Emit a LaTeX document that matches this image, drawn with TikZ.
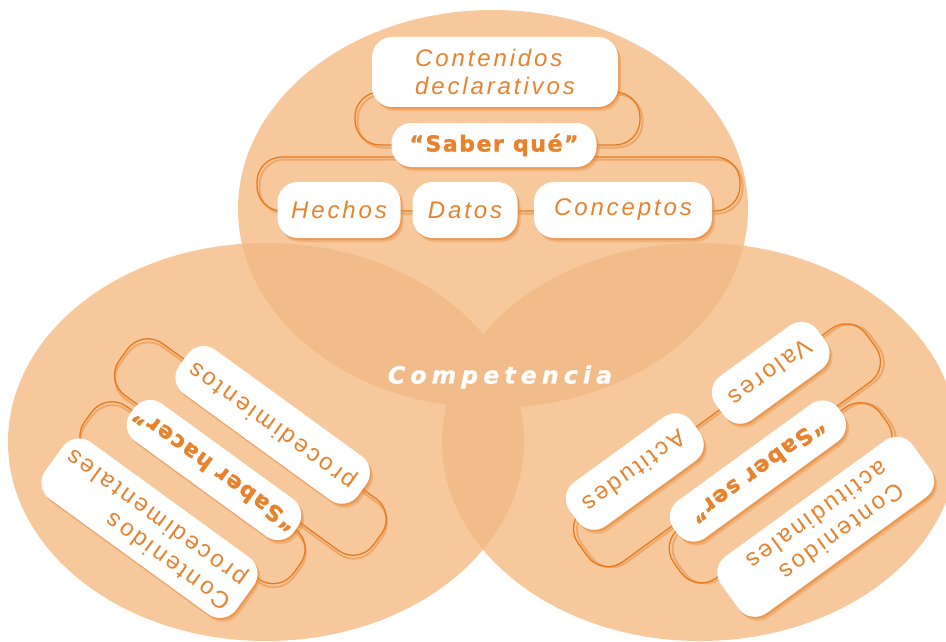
\documentclass[tikz,border=0pt]{standalone}
\usepackage{fontspec}
\setmainfont{Liberation Sans}
\newfontfamily\cardfont[LetterSpace=12]{Liberation Sans}
\newfontfamily\strongfont[LetterSpace=7, FakeBold=1.6]{DejaVu Sans Bold}
\newfontfamily\titlefont[LetterSpace=22, FakeBold=1.2]{DejaVu Sans Bold Oblique}
\usetikzlibrary{shadows}

\definecolor{peach}{RGB}{246,200,155}
\definecolor{peachdark}{RGB}{242,188,138}
\definecolor{inkorange}{RGB}{232,130,45}
\definecolor{cliporange}{RGB}{228,122,32}

\tikzset{
  blob/.style={fill=peach},
  overlap/.style={fill=peachdark},
  card/.style={fill=white, text=inkorange, inner sep=0pt, rounded corners=20pt,
    drop shadow={shadow xshift=3pt, shadow yshift=-4pt, fill=inkorange, opacity=.3},
    drop shadow={shadow xshift=1.5pt, shadow yshift=-2pt, fill=inkorange, opacity=.5},
    font=\cardfont\fontsize{24}{28}\selectfont},
  slanted/.style={font=\cardfont\itshape\fontsize{24}{28}\selectfont},
  strong/.style={font=\strongfont\fontsize{22}{26}\selectfont},
  clipline/.style={draw=cliporange, line width=1.3pt, rounded corners=25pt},
  clipshade/.style={draw=cliporange, line width=2pt, opacity=.4, rounded corners=25pt, shift={(2.5,2.5)}},
}

\begin{document}
\begin{tikzpicture}[x=1pt, y=-1pt]
    \useasboundingbox (0,0) rectangle (946,642);

    % Draw the three discs
    \fill[blob] (493,209) ellipse [x radius=255, y radius=199];
    \fill[blob] (266,442) ellipse [x radius=258, y radius=199];
    \fill[blob] (700,442) ellipse [x radius=258, y radius=199];

    % Darker where they overlap
    \begin{scope}
        \clip (493,209) ellipse [x radius=255, y radius=199];
        \fill[overlap] (266,442) ellipse [x radius=258, y radius=199];
        \fill[overlap] (700,442) ellipse [x radius=258, y radius=199];
    \end{scope}
    \begin{scope}
        \clip (266,442) ellipse [x radius=258, y radius=199];
        \fill[overlap] (700,442) ellipse [x radius=258, y radius=199];
    \end{scope}

    % Top group: saber que
    \draw[clipshade] (355,92) rectangle (640,145);
    \draw[clipline] (355,92) rectangle (640,145);
    \draw[clipshade] (257,157) rectangle (740,211);
    \draw[clipline] (257,157) rectangle (740,211);

    \node[card, slanted, minimum width=246pt, minimum height=70pt, align=left] (decl) at (495,72) {Contenidos\\declarativos};
    \node[card, strong, minimum width=205pt, minimum height=44pt] (saberque) at (494,145) {“Saber qué”};
    \node[card, slanted, minimum width=123pt, minimum height=56pt] (hechos) at (339,210) {Hechos};
    \node[card, slanted, minimum width=105pt, minimum height=56pt] (datos) at (465,210) {Datos};
    \node[card, slanted, minimum width=178pt, minimum height=56pt] (conceptos) at (623,210) {Conceptos};

    % Left group: saber hacer
    \begin{scope}[shift={(214,470)}, rotate=-36, transform shape]
        \draw[clipshade] (-141,-72) rectangle (173,-8);
        \draw[clipline] (-141,-72) rectangle (173,-8);
        \draw[clipshade] (-133,0) rectangle (125,62);
        \draw[clipline] (-133,0) rectangle (125,62);

        \node[card, rotate=180, minimum width=221pt, minimum height=54pt] (proc) at (21,-71) {procedimientos};
        \node[card, strong, rotate=180, minimum width=202pt, minimum height=46pt] (saberhacer) at (0,0) {“Saber hacer”};
        \node[card, rotate=180, minimum width=236pt, minimum height=70pt, align=left] (contproc) at (-18,85) {Contenidos\\procedimentales};
    \end{scope}

    % Right group: saber ser
    \begin{scope}[shift={(758,471)}, rotate=36, transform shape]
        \draw[clipshade] (-188,-72) rectangle (168,-6);
        \draw[clipline] (-188,-72) rectangle (168,-6);
        \draw[clipshade] (-122,0) rectangle (133,62);
        \draw[clipline] (-122,0) rectangle (133,62);

        \node[card, rotate=180, minimum width=126pt, minimum height=54pt] (valores) at (68,-72) {Valores};
        \node[card, rotate=180, minimum width=151pt, minimum height=54pt] (actitudes) at (-100,-72) {Actitudes};
        \node[card, strong, rotate=180, minimum width=204pt, minimum height=46pt] (saberser) at (0,0) {“Saber ser”};
        \node[card, rotate=180, minimum width=237pt, minimum height=70pt, align=left] (contact) at (22,85) {Contenidos\\actitudinales};
    \end{scope}

    % Centre label
    \node[text=white, font=\titlefont\fontsize{23.5}{28}\selectfont] (comp) at (500,377) {Competencia};
\end{tikzpicture}
\end{document}
